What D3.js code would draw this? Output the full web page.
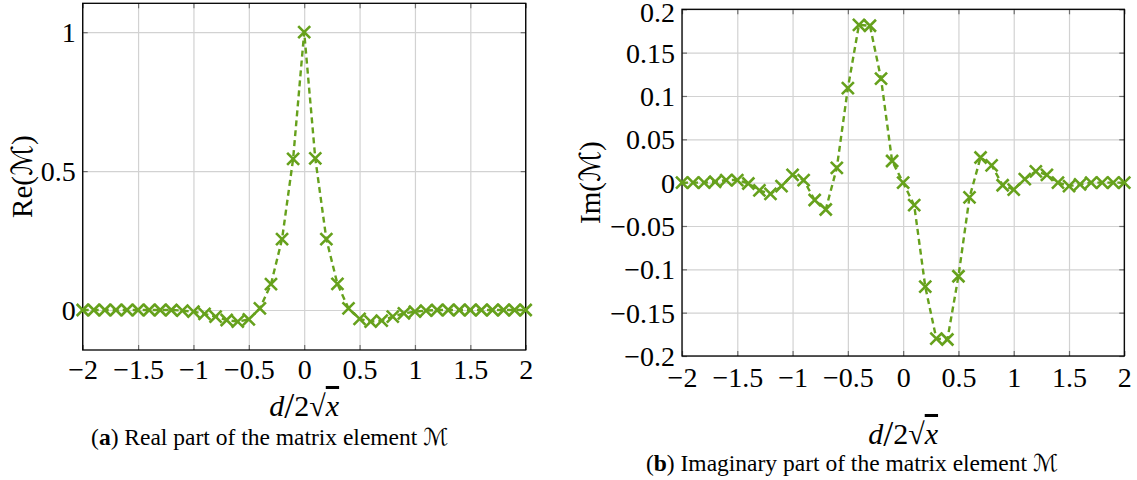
<!DOCTYPE html>
<html>
<head>
<meta charset="utf-8">
<script src="https://cdn.jsdelivr.net/npm/d3@7"></script>
<style>
body { margin: 0; background: #fff; }
text { font-family: "Liberation Serif", "DejaVu Serif", serif; fill: #000; }
.cal { font-family: "DejaVu Sans", "DejaVu Serif", serif; font-weight: normal; }
</style>
</head>
<body>
<svg id="fig" width="1137" height="480"></svg>
<script>
// d / 2 sqrt(x) sample points
var dValues = [-2, -1.9, -1.8, -1.7, -1.6, -1.5, -1.4, -1.3, -1.2, -1.1, -1,
               -0.9, -0.8, -0.7, -0.6, -0.5, -0.4, -0.3, -0.2, -0.1, 0,
               0.1, 0.2, 0.3, 0.4, 0.5, 0.6, 0.7, 0.8, 0.9, 1,
               1.1, 1.2, 1.3, 1.4, 1.5, 1.6, 1.7, 1.8, 1.9, 2];

var reValues = [0, 0, 0, 0, 0, 0, 0, 0, 0, -0.002, -0.006,
                -0.014, -0.024, -0.036, -0.042, -0.034, 0.006, 0.093, 0.255, 0.544, 1,
                0.546, 0.255, 0.094, 0.006, -0.032, -0.042, -0.038, -0.024, -0.012, -0.006,
                -0.002, 0, 0, 0, 0, 0, 0, 0, 0, 0];

var imValues = [0, 0, 0, 0.001, 0.003, 0.003, -0.001, -0.009, -0.013, -0.004, 0.009,
                0.003, -0.02, -0.031, 0.017, 0.109, 0.182, 0.181, 0.12, 0.025, 0,
                -0.026, -0.12, -0.18, -0.181, -0.108, -0.017, 0.029, 0.02, -0.003, -0.008,
                0.004, 0.013, 0.009, 0, -0.004, -0.002, 0, 0, 0, 0];

var xTicks = [-2, -1.5, -1, -0.5, 0, 0.5, 1, 1.5, 2];
var reTicks = [0, 0.5, 1];
var imTicks = [-0.2, -0.15, -0.1, -0.05, 0, 0.05, 0.1, 0.15, 0.2];

var green = "#66a11c";
var serif = "'Liberation Serif', 'DejaVu Serif', serif";

function fmt(d) {
    return String(d).replace("-", "\u2212");
}

function Panel(svg, cfg) {
    this.cfg = cfg;
    this.g = svg.append("g")
        .attr("transform", "translate(" + cfg.left + "," + cfg.top + ")");
    this.x = d3.scaleLinear().domain([-2, 2]).range([0, cfg.width]);
    this.y = d3.scaleLinear().domain(cfg.yDomain).range([cfg.height, 0]);
}

Panel.prototype.draw = function draw() {
    var cfg = this.cfg, g = this.g, x = this.x, y = this.y;
    var w = cfg.width, h = cfg.height;

    // grid
    g.append("g")
        .attr("transform", "translate(0," + h + ")")
        .call(d3.axisBottom(x).tickValues(xTicks).tickSize(-h).tickFormat(""))
        .call(function(a) { a.select(".domain").remove(); })
        .selectAll("line").attr("stroke", "#d2d2d2").attr("stroke-width", 1.2);
    g.append("g")
        .call(d3.axisLeft(y).tickValues(cfg.yTicks).tickSize(-w).tickFormat(""))
        .call(function(a) { a.select(".domain").remove(); })
        .selectAll("line").attr("stroke", "#d2d2d2").attr("stroke-width", 1.2);

    // inner ticks on all four sides
    var tk = 5;
    [[d3.axisBottom(x).tickValues(xTicks).tickSize(-tk), "translate(0," + h + ")"],
     [d3.axisTop(x).tickValues(xTicks).tickSize(-tk), "translate(0,0)"],
     [d3.axisLeft(y).tickValues(cfg.yTicks).tickSize(-tk), "translate(0,0)"],
     [d3.axisRight(y).tickValues(cfg.yTicks).tickSize(-tk), "translate(" + w + ",0)"]
    ].forEach(function(p) {
        g.append("g").attr("transform", p[1])
            .call(p[0].tickFormat(""))
            .call(function(a) { a.select(".domain").remove(); })
            .selectAll("line").attr("stroke", "#6e6e6e").attr("stroke-width", 1.2);
    });

    // tick labels
    var xl = g.append("g")
        .attr("transform", "translate(0," + h + ")")
        .call(d3.axisBottom(x).tickValues(xTicks).tickSize(0).tickFormat(fmt));
    xl.attr("font-family", serif);
    xl.select(".domain").remove();
    xl.selectAll("text")
        .attr("y", cfg.xTickOffset).attr("dy", 0)
        .style("font-family", serif)
        .style("font-size", "28px");

    var yl = g.append("g")
        .call(d3.axisLeft(y).tickValues(cfg.yTicks).tickSize(0).tickFormat(fmt));
    yl.attr("font-family", serif);
    yl.select(".domain").remove();
    yl.selectAll("text")
        .attr("x", -7)
        .attr("dy", function(d) { return y(d) < 12 ? "0.42em" : "0.34em"; })
        .style("font-family", serif)
        .style("font-size", "28px");

    // frame
    g.append("rect")
        .attr("width", w).attr("height", h)
        .attr("fill", "none").attr("stroke", "#000").attr("stroke-width", 1.3);

    // data
    var pts = dValues.map(function(d, i) { return [d, cfg.values[i]]; });
    var line = d3.line()
        .x(function(d) { return x(d[0]); })
        .y(function(d) { return y(d[1]); });

    g.append("path")
        .datum(pts)
        .attr("fill", "none")
        .attr("stroke", green)
        .attr("stroke-width", 2.4)
        .attr("stroke-dasharray", "6,4")
        .attr("d", line);

    var s = 6;
    g.append("g").selectAll("path.mark")
        .data(pts)
        .join("path")
        .attr("class", "mark")
        .attr("fill", "none")
        .attr("stroke", green)
        .attr("stroke-width", 2.6)
        .attr("d", function(d) {
            var cx = x(d[0]), cy = y(d[1]);
            return "M" + (cx - s) + "," + (cy - s) + "L" + (cx + s) + "," + (cy + s) +
                   "M" + (cx - s) + "," + (cy + s) + "L" + (cx + s) + "," + (cy - s);
        });

    // y label
    var ylab = g.append("text")
        .attr("transform", "translate(" + cfg.yLabelX + "," + (h / 2) + ") rotate(-90)")
        .attr("text-anchor", "middle")
        .attr("dy", "0.35em")
        .style("font-size", "29px");
    ylab.append("tspan").text(cfg.yLabel + "(");
    ylab.append("tspan").attr("class", "cal").text("\u2133");
    ylab.append("tspan").text(")");

    // x label d/2sqrt(x)
    var xlab = g.append("text")
        .attr("x", w / 2).attr("y", h + cfg.xLabelY)
        .attr("text-anchor", "middle")
        .style("font-size", "30px");
    xlab.append("tspan").style("font-style", "italic").text("d");
    xlab.append("tspan").style("font-size", "36px").attr("dy", 2).text("/");
    xlab.append("tspan").attr("dy", -2).text("2\u221A");
    xlab.append("tspan").style("font-style", "italic")
        .style("text-decoration", "overline").text("x");

    // caption
    var cap = g.append("text")
        .attr("x", cfg.captionX).attr("y", cfg.captionY)
        .attr("text-anchor", "middle")
        .style("font-size", "23.5px");
    cap.append("tspan").text("(");
    cap.append("tspan").style("font-weight", "bold").text(cfg.tag);
    cap.append("tspan").text(") " + cfg.caption + " ");
    cap.append("tspan").attr("class", "cal").text("\u2133");
};

var svg = d3.select("#fig");

new Panel(svg, {
    left: 82.7, top: 3.3, width: 443, height: 346.7,
    yDomain: [-0.144, 1.104], yTicks: reTicks, values: reValues,
    yLabel: "Re", yLabelX: -61, xTickOffset: 29, xLabelY: 66,
    tag: "a", caption: "Real part of the matrix element",
    captionX: 187, captionY: 442
}).draw();

new Panel(svg, {
    left: 682, top: 9.3, width: 442.3, height: 346.7,
    yDomain: [-0.2, 0.2], yTicks: imTicks, values: imValues,
    yLabel: "Im", yLabelX: -92, xTickOffset: 31, xLabelY: 88,
    tag: "b", caption: "Imaginary part of the matrix element",
    captionX: 170, captionY: 462
}).draw();
</script>
</body>
</html>
